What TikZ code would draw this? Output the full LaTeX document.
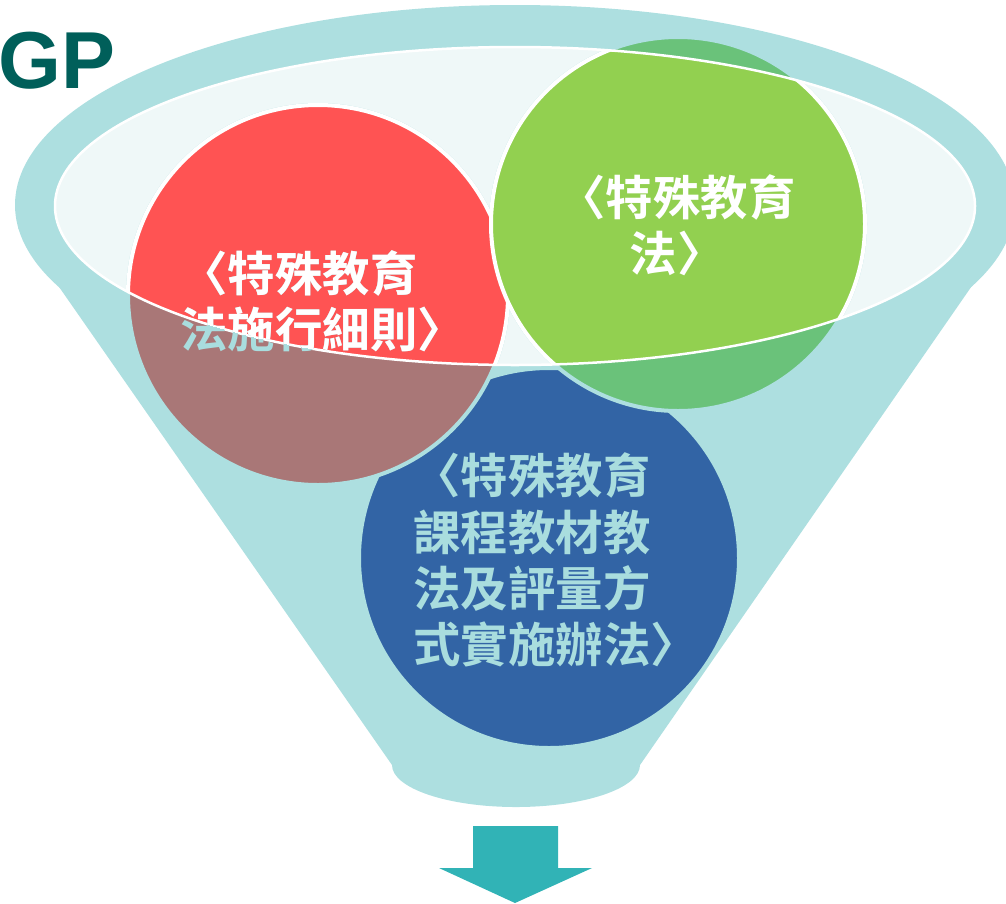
\documentclass[tikz,border=0pt]{standalone}
\usepackage{fontspec}
\setmainfont{Liberation Sans}
\newfontfamily\cjkfont{Noto Sans CJK TC}[BoldFont={Noto Sans CJK TC Bold}]
\usetikzlibrary{positioning}

\definecolor{funnelteal}{HTML}{ADDFE0}
\definecolor{innerwhite}{HTML}{EFF8F8}
\definecolor{ballred}{HTML}{FF5353}
\definecolor{ballreddim}{HTML}{A97777}
\definecolor{ballgreen}{HTML}{92D050}
\definecolor{ballgreendim}{HTML}{6AC27A}
\definecolor{ballblue}{HTML}{3264A5}
\definecolor{lawteal}{HTML}{A9DDDE}
\definecolor{arrowteal}{HTML}{31B3B6}
\definecolor{gpgreen}{HTML}{005F5A}

\tikzset{
  law/.style={font=\cjkfont\bfseries\fontsize{27}{32}\selectfont, inner sep=0pt},
  ball/.style={line width=0.08cm},
}

\begin{document}
\begin{tikzpicture}[x=0.02cm, y=-0.02cm]
  \useasboundingbox (0,0) rectangle (1006,903);

  % Funnel
  \fill[funnelteal] (515,205) ellipse[x radius=500, y radius=200];
  \fill[funnelteal] (18,228) -- (392,765) arc[start angle=180, end angle=0, x radius=124, y radius=42] -- (1012,228) -- cycle;
  \fill[innerwhite] (515,206) ellipse[x radius=460, y radius=159];

  % Circles (dim where the funnel covers them)
  \filldraw[ball, fill=ballblue, draw=funnelteal] (549,558) circle[radius=190];
  \filldraw[ball, fill=ballreddim, draw=funnelteal] (318,295) circle[radius=190];
  \filldraw[ball, fill=ballgreendim, draw=funnelteal] (678,224) circle[radius=187];
  \begin{scope}
    \clip (515,206) ellipse[x radius=460, y radius=159];
    \filldraw[ball, fill=ballred, draw=white] (318,295) circle[radius=190];
    \filldraw[ball, fill=ballgreen, draw=white] (678,224) circle[radius=187];
  \end{scope}
  \draw[white, line width=0.05cm] (515,206) ellipse[x radius=460, y radius=159];

  % Texts
  \node[law, text=lawteal, align=left, anchor=west] (redlaw) at (180,301) {〈特殊教育\\法施行細則〉};
  \begin{scope}
    \clip (515,206) ellipse[x radius=460, y radius=159];
    \node[law, text=white, align=left, anchor=west] (redlawlit) at (180,301) {〈特殊教育\\法施行細則〉};
  \end{scope}
  \node[law, text=white, align=center] (greenlaw) at (677,225) {〈特殊教育\\法〉};
  \node[law, text=lawteal, align=left, anchor=west] (bluelaw) at (413,560) {〈特殊教育\\課程教材教\\法及評量方\\式實施辦法〉};

  \node[font=\bfseries\fontsize{46}{46}\selectfont, text=gpgreen, anchor=base west, inner sep=0pt] (gp) at (-2,88) {GP};

  % Arrow
  \fill[arrowteal] (473,826) -- (558,826) -- (558,868) -- (592,868) -- (515,903) -- (439,868) -- (473,868) -- cycle;
\end{tikzpicture}
\end{document}
